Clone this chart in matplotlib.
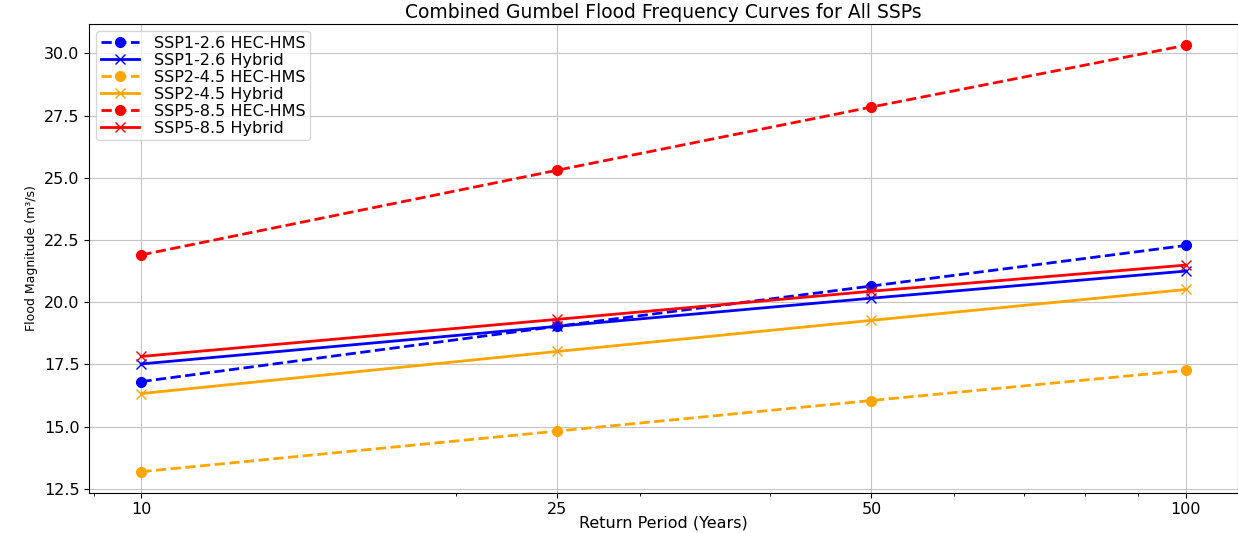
import matplotlib
matplotlib.use("Agg")
import matplotlib.pyplot as plt
from matplotlib.ticker import ScalarFormatter, NullFormatter

plt.rcParams["font.family"] = ["DejaVu Sans"]

return_periods = [10, 25, 50, 100]
ssp126_hec = [16.81, 19.03, 20.65, 22.28]
ssp126_hyb = [17.52, 19.03, 20.16, 21.25]
ssp245_hec = [13.19, 14.82, 16.05, 17.26]
ssp245_hyb = [16.33, 18.02, 19.27, 20.51]
ssp585_hec = [21.90, 25.30, 27.84, 30.32]
ssp585_hyb = [17.82, 19.31, 20.44, 21.49]

series = [
    ("SSP1-2.6 HEC-HMS", ssp126_hec, "blue", "o", "--"),
    ("SSP1-2.6 Hybrid", ssp126_hyb, "blue", "x", "-"),
    ("SSP2-4.5 HEC-HMS", ssp245_hec, "orange", "o", "--"),
    ("SSP2-4.5 Hybrid", ssp245_hyb, "orange", "x", "-"),
    ("SSP5-8.5 HEC-HMS", ssp585_hec, "red", "o", "--"),
    ("SSP5-8.5 Hybrid", ssp585_hyb, "red", "x", "-"),
]

fig = plt.figure(figsize=(12.38, 5.33), dpi=100)
ax = fig.add_axes([0.072, 0.075, 0.928, 0.880])

for label, vals, color, marker, ls in series:
    ax.plot(return_periods, vals, linestyle=ls, marker=marker, color=color,
            label=label, linewidth=2, markersize=7)

ax.set_xscale("log")
ax.set_xticks(return_periods)
ax.xaxis.set_major_formatter(ScalarFormatter())
ax.xaxis.set_minor_formatter(NullFormatter())
ax.tick_params(axis="both", which="major", labelsize=11.5)
ax.tick_params(axis="x", which="major", pad=3)
ax.grid(True, which="major", color="#c4c4c4")

ax.set_title("Combined Gumbel Flood Frequency Curves for All SSPs", fontsize=13.5, pad=4)
ax.set_xlabel("Return Period (Years)", fontsize=11.5, labelpad=-1)
ax.set_ylabel("Flood Magnitude (m³/s)", fontsize=9)
ax.legend(loc="upper left", fontsize=11.5, borderaxespad=0.45,
          labelspacing=0.12, handlelength=2.4, handletextpad=0.9,
          borderpad=0.3)

fig.savefig("out.png", dpi=100)
